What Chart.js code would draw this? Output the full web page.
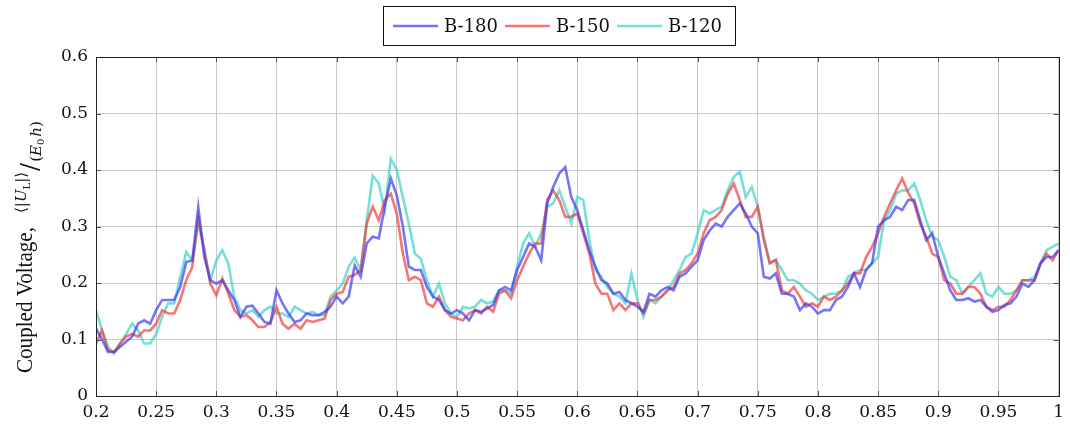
<!DOCTYPE html>
<html>
<head>
<meta charset="utf-8">
<script src="https://cdn.jsdelivr.net/npm/chart.js@4.4.1/dist/chart.umd.min.js"></script>
<style>
  html, body { margin: 0; padding: 0; background: #fff; }
  #wrap { width: 1070px; height: 428px; }
</style>
</head>
<body>
<div id="wrap"><canvas id="voltChart" width="1070" height="428"></canvas></div>
<script>
// x positions, one every 0.005 from 0.2 to 1.0
const xs = [];
for (let i = 0; i <= 160; i++) xs.push(Math.round((0.2 + i * 0.005) * 1000) / 1000);

const seriesNames = ["B-180", "B-150", "B-120"];
const seriesColors = ["rgba(60,60,240,0.7)", "rgba(240,60,60,0.7)", "rgba(60,210,200,0.7)"];

// values, 10 per row (0.2, 0.25, 0.3 ...)
const b180 = [
  0.12, 0.10, 0.078, 0.078, 0.087, 0.096, 0.105, 0.128, 0.134, 0.128,
  0.152, 0.17, 0.17, 0.17, 0.193, 0.237, 0.24, 0.334, 0.246, 0.205,
  0.199, 0.205, 0.187, 0.17, 0.14, 0.158, 0.16, 0.146, 0.131, 0.128,
  0.187, 0.164, 0.146, 0.131, 0.134, 0.146, 0.143, 0.143, 0.149, 0.158,
  0.176, 0.164, 0.176, 0.231, 0.211, 0.27, 0.282, 0.279, 0.335, 0.385,
  0.355, 0.3, 0.229, 0.223, 0.223, 0.193, 0.176, 0.17, 0.152, 0.146,
  0.152, 0.146, 0.134, 0.152, 0.149, 0.155, 0.161, 0.187, 0.193, 0.187,
  0.223, 0.246, 0.27, 0.264, 0.24, 0.341, 0.37, 0.394, 0.405, 0.352,
  0.329, 0.293, 0.258, 0.229, 0.205, 0.199, 0.181, 0.184, 0.17, 0.164,
  0.158, 0.149, 0.181, 0.176, 0.187, 0.193, 0.187, 0.211, 0.217, 0.229,
  0.24, 0.276, 0.293, 0.305, 0.3, 0.317, 0.329, 0.341, 0.323, 0.3,
  0.288, 0.211, 0.208, 0.217, 0.181, 0.181, 0.176, 0.152, 0.164, 0.158,
  0.146, 0.152, 0.152, 0.17, 0.176, 0.193, 0.217, 0.193, 0.223, 0.235,
  0.3, 0.311, 0.317, 0.335, 0.329, 0.347, 0.347, 0.311, 0.276, 0.288,
  0.246, 0.217, 0.187, 0.17, 0.17, 0.173, 0.167, 0.17, 0.158, 0.149,
  0.152, 0.161, 0.164, 0.176, 0.199, 0.193, 0.205, 0.235, 0.246, 0.246,
  0.258
];
const b150 = [
  0.093, 0.116, 0.081, 0.078, 0.093, 0.105, 0.11, 0.105, 0.116, 0.116,
  0.128, 0.152, 0.146, 0.146, 0.17, 0.205, 0.228, 0.316, 0.258, 0.199,
  0.178, 0.208, 0.181, 0.152, 0.14, 0.143, 0.134, 0.122, 0.122, 0.131,
  0.158, 0.128, 0.119, 0.128, 0.119, 0.134, 0.131, 0.134, 0.137, 0.17,
  0.181, 0.184, 0.211, 0.214, 0.223, 0.305, 0.335, 0.311, 0.347, 0.358,
  0.323, 0.252, 0.205, 0.211, 0.205, 0.164, 0.158, 0.176, 0.152, 0.14,
  0.137, 0.134, 0.146, 0.152, 0.146, 0.158, 0.149, 0.181, 0.187, 0.173,
  0.205, 0.229, 0.252, 0.27, 0.27, 0.347, 0.364, 0.347, 0.317, 0.317,
  0.323, 0.288, 0.252, 0.199, 0.181, 0.181, 0.152, 0.164, 0.152, 0.164,
  0.164, 0.146, 0.17, 0.17, 0.176, 0.187, 0.193, 0.217, 0.223, 0.235,
  0.252, 0.288, 0.311, 0.317, 0.329, 0.358, 0.376, 0.347, 0.317, 0.317,
  0.335, 0.276, 0.235, 0.241, 0.187, 0.181, 0.193, 0.176, 0.158, 0.164,
  0.158, 0.176, 0.17, 0.176, 0.187, 0.199, 0.217, 0.217, 0.246, 0.264,
  0.288, 0.317, 0.341, 0.364, 0.385, 0.36, 0.341, 0.305, 0.282, 0.252,
  0.246, 0.205, 0.199, 0.181, 0.181, 0.193, 0.193, 0.181, 0.158, 0.152,
  0.158, 0.158, 0.17, 0.187, 0.205, 0.205, 0.205, 0.235, 0.252, 0.24,
  0.258
];
const b120 = [
  0.152, 0.116, 0.087, 0.075, 0.093, 0.11, 0.128, 0.116, 0.093, 0.093,
  0.11, 0.14, 0.164, 0.164, 0.21, 0.255, 0.24, 0.305, 0.258, 0.205,
  0.24, 0.258, 0.234, 0.175, 0.152, 0.146, 0.152, 0.14, 0.152, 0.158,
  0.146, 0.146, 0.14, 0.158, 0.152, 0.146, 0.149, 0.143, 0.143, 0.176,
  0.187, 0.199, 0.229, 0.245, 0.223, 0.311, 0.39, 0.376, 0.329, 0.42,
  0.4, 0.352, 0.305, 0.252, 0.243, 0.205, 0.176, 0.199, 0.164, 0.146,
  0.14, 0.158, 0.155, 0.158, 0.17, 0.164, 0.167, 0.187, 0.187, 0.181,
  0.229, 0.27, 0.288, 0.264, 0.288, 0.335, 0.341, 0.364, 0.335, 0.305,
  0.352, 0.347, 0.276, 0.223, 0.211, 0.193, 0.181, 0.176, 0.164, 0.217,
  0.17, 0.14, 0.17, 0.164, 0.176, 0.187, 0.205, 0.223, 0.246, 0.252,
  0.288, 0.329, 0.323, 0.329, 0.335, 0.364, 0.388, 0.397, 0.352, 0.37,
  0.335, 0.282, 0.235, 0.241, 0.223, 0.205, 0.205, 0.199, 0.187, 0.181,
  0.17, 0.176, 0.181, 0.181, 0.187, 0.211, 0.217, 0.223, 0.223, 0.235,
  0.246, 0.311, 0.329, 0.358, 0.364, 0.364, 0.376, 0.347, 0.311, 0.282,
  0.276, 0.246, 0.211, 0.205, 0.181, 0.193, 0.205, 0.217, 0.181, 0.176,
  0.193, 0.181, 0.181, 0.187, 0.205, 0.205, 0.211, 0.235, 0.258, 0.264,
  0.27
];

const TICK_FONT = { family: "'DejaVu Serif', serif", size: 17 };

function fmt(v) {
  return String(Math.round(v * 100) / 100);
}

// frame round the plot, with small inward ticks like pgfplots
const framePlugin = {
  id: "frame",
  afterDraw(chart) {
    const { ctx, chartArea: a, scales } = chart;
    ctx.save();
    ctx.strokeStyle = "#555";
    ctx.lineWidth = 1;
    ctx.beginPath();
    scales.x.ticks.forEach((t) => {
      const px = Math.round(scales.x.getPixelForValue(t.value)) + 0.5;
      ctx.moveTo(px, a.bottom); ctx.lineTo(px, a.bottom - 5);
      ctx.moveTo(px, a.top); ctx.lineTo(px, a.top + 5);
    });
    scales.y.ticks.forEach((t) => {
      const py = Math.round(scales.y.getPixelForValue(t.value)) + 0.5;
      ctx.moveTo(a.left, py); ctx.lineTo(a.left + 5, py);
      ctx.moveTo(a.right, py); ctx.lineTo(a.right - 5, py);
    });
    ctx.stroke();
    ctx.strokeStyle = "#222";
    ctx.strokeRect(Math.round(a.left) + 0.5, Math.round(a.top) + 0.5,
      Math.round(a.right - a.left), Math.round(a.bottom - a.top));
    ctx.restore();
  }
};

// boxed legend at the top centre
const legendPlugin = {
  id: "boxLegend",
  afterDraw(chart) {
    const ctx = chart.ctx;
    ctx.save();
    ctx.strokeStyle = "#111";
    ctx.lineWidth = 1;
    ctx.strokeRect(383.5, 6.5, 352, 39);
    const lineX = [393, 505, 617];
    ctx.font = "18px 'DejaVu Serif', serif";
    ctx.textBaseline = "alphabetic";
    seriesNames.forEach((name, i) => {
      ctx.strokeStyle = seriesColors[i];
      ctx.lineWidth = 2.5;
      ctx.beginPath();
      ctx.moveTo(lineX[i], 26);
      ctx.lineTo(lineX[i] + 45, 26);
      ctx.stroke();
      ctx.fillStyle = "#111";
      ctx.fillText(name, lineX[i] + 51, 32);
    });
    ctx.restore();
  }
};

// rotated y title: "Coupled Voltage," plus a slanted fraction
const yTitlePlugin = {
  id: "yTitle",
  afterDraw(chart) {
    const ctx = chart.ctx;
    ctx.save();
    ctx.translate(32, 373);
    ctx.rotate(-Math.PI / 2);
    ctx.fillStyle = "#111";
    ctx.textBaseline = "alphabetic";
    ctx.font = "23px 'Liberation Serif', serif";
    const w = ctx.measureText("Coupled Voltage,").width;
    ctx.save();
    ctx.scale(146 / w, 1);
    ctx.fillText("Coupled Voltage,", 0, 0);
    ctx.restore();
    let x = 160;
    const put = (txt, font, dy) => {
      ctx.font = font;
      ctx.fillText(txt, x, dy);
      x += ctx.measureText(txt).width;
    };
    const up = "15px 'DejaVu Serif', serif";
    const upIt = "italic 15px 'DejaVu Serif', serif";
    const sub = "10px 'DejaVu Serif', serif";
    put("\u27E8|", up, -6);
    put("U", upIt, -6);
    put("L", sub, -2);
    put("|\u27E9", up, -6);
    x += 1;
    put("/", "24px 'DejaVu Serif', serif", 6);
    x += 1;
    put("(", up, 9);
    put("E", upIt, 9);
    put("0", sub, 12);
    x += 2;
    put("h", upIt, 9);
    put(")", up, 9);
    ctx.restore();
  }
};

const datasets = [b180, b150, b120].map((vals, i) => ({
  label: seriesNames[i],
  data: xs.map((x, j) => ({ x: x, y: vals[j] })),
  borderColor: seriesColors[i],
  backgroundColor: seriesColors[i],
  borderWidth: 2.6,
  pointRadius: 0,
  tension: 0,
  fill: false
}));

new Chart(document.getElementById("voltChart").getContext("2d"), {
  type: "line",
  data: { datasets: datasets },
  options: {
    responsive: false,
    animation: false,
    devicePixelRatio: 1,
    layout: { padding: { top: 57, right: 8, left: 0, bottom: 0 } },
    plugins: {
      legend: { display: false },
      tooltip: { enabled: false }
    },
    scales: {
      x: {
        type: "linear",
        min: 0.2,
        max: 1,
        ticks: {
          stepSize: 0.05,
          font: TICK_FONT,
          color: "#111",
          padding: 6,
          maxRotation: 0,
          autoSkip: false,
          callback: (v) => fmt(v)
        },
        grid: { color: "#c8c8c8", lineWidth: 1, drawTicks: false },
        border: { display: false },
        afterFit: (s) => { s.height = 32; }
      },
      y: {
        min: 0,
        max: 0.6,
        ticks: {
          stepSize: 0.1,
          font: TICK_FONT,
          color: "#111",
          padding: 8,
          callback: (v) => fmt(v)
        },
        grid: { color: "#c8c8c8", lineWidth: 1, drawTicks: false },
        border: { display: false },
        afterFit: (s) => { s.width = 96; }
      }
    }
  },
  plugins: [framePlugin, legendPlugin, yTitlePlugin]
});
</script>
</body>
</html>
